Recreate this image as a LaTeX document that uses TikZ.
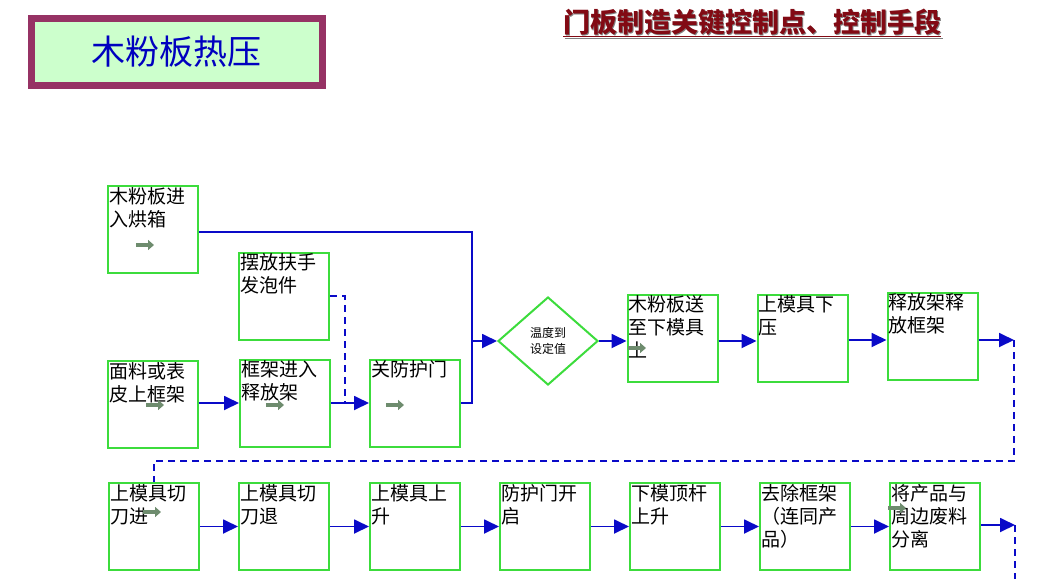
\documentclass[tikz,border=0pt]{standalone}
\usepackage{fontspec}
\setmainfont{Noto Sans CJK SC}
\usetikzlibrary{arrows.meta,positioning,shapes.geometric}
\definecolor{boxgreen}{RGB}{60,220,60}
\definecolor{linkblue}{RGB}{10,10,200}
\definecolor{markgray}{RGB}{110,140,110}
\definecolor{titlered}{RGB}{130,10,20}
\definecolor{framepurple}{RGB}{150,50,100}
\tikzset{
  box/.style={draw=boxgreen, line width=2pt, fill=white, minimum width=90pt, minimum height=87pt, inner sep=0pt},
  txt/.style={font=\fontsize{19}{23}\selectfont, align=left, anchor=north west, inner sep=2pt},
  link/.style={draw=linkblue, line width=1.8pt},
  arrow/.style={link, -{Triangle[length=15pt,width=14pt]}},
  dlink/.style={link, dash pattern=on 7pt off 5pt},
  hint/.style={draw=markgray, line width=4pt, -{Triangle[length=6pt,width=10pt]}},
}
\newcommand{\stepbox}[4]{%
  \node[box, label={[txt]north west:{#4}}] (#1) at (#2,#3) {};}
\begin{document}
\begin{tikzpicture}[x=1pt,y=-1pt]
  \useasboundingbox (0,0) rectangle (1045,579);
  % title
  \node[draw=framepurple, line width=7pt, fill=green!20, minimum width=291pt, minimum height=67pt,
        text=blue!75!black, font=\fontsize{34}{38}\selectfont] (title) at (176.5,51.5) {木粉板热压};
  \node[text=gray, font=\bfseries\fontsize{27}{30}\selectfont] at (753.5,24.5) {\underline{门板制造关键控制点、控制手段}};
  \node[text=titlered, font=\bfseries\fontsize{27}{30}\selectfont] (head) at (752,23) {\underline{门板制造关键控制点、控制手段}};

  % first row
  \stepbox{oven}{153}{229.5}{木粉板进\\入烘箱}
  \stepbox{foam}{284}{296}{摆放扶手\\发泡件}
  \stepbox{skin}{153}{404.5}{面料或表\\皮上框架}
  \stepbox{rack}{285}{403}{框架进入\\释放架}
  \stepbox{door}{415}{403}{关防护门}
  \node[diamond, draw=boxgreen, line width=2pt, minimum width=100pt, minimum height=88pt, inner sep=0pt,
        align=center, font=\fontsize{12}{16}\selectfont] (temp) at (548,341) {温度到\\设定值};
  \stepbox{feed}{672.5}{338}{木粉板送\\至下模具\\上}
  \stepbox{press}{802.5}{338}{上模具下\\压}
  \stepbox{free}{932.5}{336}{释放架释\\放框架}

  % second row
  \stepbox{cut}{154}{526.5}{上模具切\\刀进}
  \stepbox{back}{284}{526.5}{上模具切\\刀退}
  \stepbox{lift}{415}{526.5}{上模具上\\升}
  \stepbox{open}{545}{526.5}{防护门开\\启}
  \stepbox{push}{675}{526.5}{下模顶杆\\上升}
  \stepbox{strip}{805}{526.5}{去除框架\\（连同产\\品）}
  \stepbox{trim}{935}{526.5}{将产品与\\周边废料\\分离}

  \coordinate (join) at (472,341);
  \coordinate (eastA) at (1014,340);
  \coordinate (eastB) at (1015,525);

  % connectors
  \draw[link] (oven.east |- 0,232) -| (join);
  \draw[link] (door.east) -| (join);
  \draw[arrow] (join) -- (temp.west);
  \draw[dlink] (foam.east) -| (345,403);
  \draw[arrow] (skin.east |- 0,403) -- (rack.west);
  \draw[arrow] (rack.east) -- (door.west);
  \draw[arrow] (temp.east) -- (feed.west |- temp.east);
  \draw[arrow] (feed.east |- 0,341) -- (press.west |- 0,341);
  \draw[arrow] (press.east |- 0,340) -- (free.west |- 0,340);
  \draw[arrow] (free.east |- eastA) -- (eastA);
  \draw[dlink] (eastA) -- (1014,461) -| (cut.north);
  \foreach \a/\b in {cut/back, back/lift, lift/open, open/push, push/strip, strip/trim}
    \draw[arrow] (\a.east) -- (\b.west);
  \draw[arrow] (trim.east |- eastB) -- (eastB);
  \draw[dlink] (eastB) -- (1015,579);

  % small marks
  \foreach \x/\y in {136/245, 146/405, 266/405, 386/405, 628/348, 143/512, 888/508}
    \draw[hint] (\x,\y) -- ++(18,0);
\end{tikzpicture}
\end{document}
